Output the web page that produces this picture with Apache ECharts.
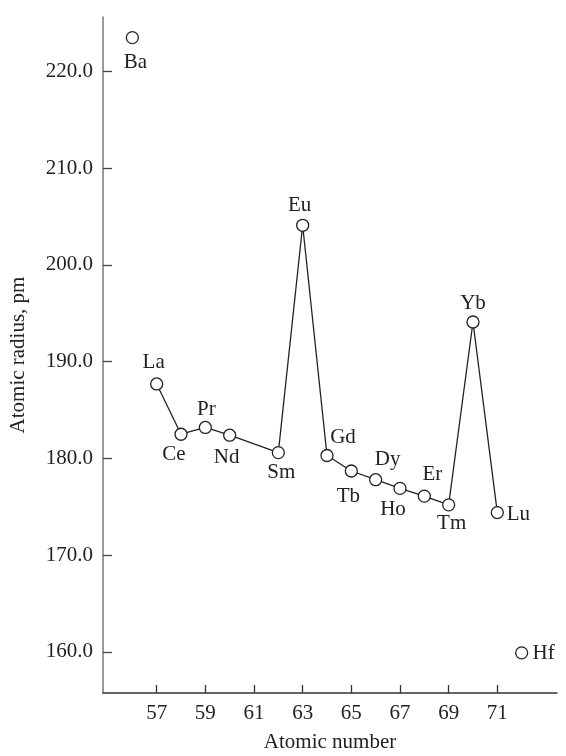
<!DOCTYPE html>
<html>
<head>
<meta charset="utf-8">
<script src="https://cdn.jsdelivr.net/npm/echarts@6/dist/echarts.min.js"></script>
<style>
html,body{margin:0;padding:0;background:#fff;}
#chart{width:566px;height:756px;}
</style>
</head>
<body>
<div id="chart"></div>
<script>
// Lanthanide series (connected line)
const lanthanides = ['La','Ce','Pr','Nd','Sm','Eu','Gd','Tb','Dy','Ho','Er','Tm','Yb','Lu'];
const lanthanideZ = [57,58,59,60,62,63,64,65,66,67,68,69,70,71];
const lanthanideRadius = [187.7,182.5,183.2,182.4,180.6,204.1,180.3,178.7,177.8,176.9,176.1,175.2,194.1,174.4];
// Neighbouring elements (unconnected points)
const neighbours = ['Ba','Hf'];
const neighbourZ = [56,72];
const neighbourRadius = [223.5,159.9];
// Axis ticks
const xTicks = [57,59,61,63,65,67,69,71];
const yTicks = [160,170,180,190,200,210,220];

// Label placement (offset of label centre from point centre, px)
const labelOffsets = {
  Ba:[3,25], La:[-3,-21], Ce:[-7,20], Pr:[1,-18], Nd:[-3,22], Sm:[3,20],
  Eu:[-3,-20], Gd:[16,-18], Tb:[-3,25], Dy:[12,-20], Ho:[-7,21],
  Er:[8,-22], Tm:[3,19], Yb:[0,-19], Lu:[21,2], Hf:[22,1]
};

const FONT = "'Liberation Serif', 'DejaVu Serif', serif";
const INK = '#222';

function pts(names, zs, vals){
  return names.map((n,i)=>({
    name:n,
    value:[zs[i], vals[i]],
    label:{
      show:true, formatter:n, position:'inside',
      offset:labelOffsets[n], align:'center', verticalAlign:'middle',
      color:INK, opacity:1, fontFamily:FONT, fontSize:21
    }
  }));
}

const chart = echarts.init(document.getElementById('chart'), null, {renderer:'canvas'});
chart.setOption({
  backgroundColor:'#fff',
  animation:false,
  grid:{left:103, right:9, top:17, bottom:63, containLabel:false, outerBoundsMode:'none'},
  xAxis:{
    type:'value', min:54.794, max:73.453,
    name:'Atomic number', nameLocation:'middle', nameGap:39,
    nameTextStyle:{color:INK, fontFamily:FONT, fontSize:21},
    axisLine:{show:true, lineStyle:{color:'#333', width:1.5}},
    axisTick:{show:true, inside:true, length:8, customValues:xTicks, lineStyle:{color:'#333', width:1.3}},
    axisLabel:{show:true, customValues:xTicks, margin:10, color:INK, fontFamily:FONT, fontSize:21},
    splitLine:{show:false}
  },
  yAxis:{
    type:'value', min:155.75, max:225.63,
    name:'Atomic radius, pm', nameLocation:'middle', nameGap:74, nameRotate:90,
    nameTextStyle:{color:INK, fontFamily:FONT, fontSize:21},
    axisLine:{show:true, lineStyle:{color:'#777', width:1.5}},
    axisTick:{show:true, inside:true, length:9, customValues:yTicks, lineStyle:{color:'#444', width:1.3}},
    axisLabel:{show:true, customValues:yTicks, margin:10, color:INK, fontFamily:FONT, fontSize:21,
      formatter:v=>Number(v).toFixed(1)},
    splitLine:{show:false}
  },
  series:[
    {
      type:'line',
      data:pts(lanthanides, lanthanideZ, lanthanideRadius),
      symbol:'circle', symbolSize:12,
      itemStyle:{color:'#fff', borderColor:INK, borderWidth:1.3, opacity:1},
      lineStyle:{color:INK, width:1.3},
      z:3
    },
    {
      type:'scatter',
      data:pts(neighbours, neighbourZ, neighbourRadius),
      symbol:'circle', symbolSize:12,
      itemStyle:{color:'#fff', borderColor:INK, borderWidth:1.3, opacity:1},
      z:3
    }
  ]
});
</script>
</body>
</html>
